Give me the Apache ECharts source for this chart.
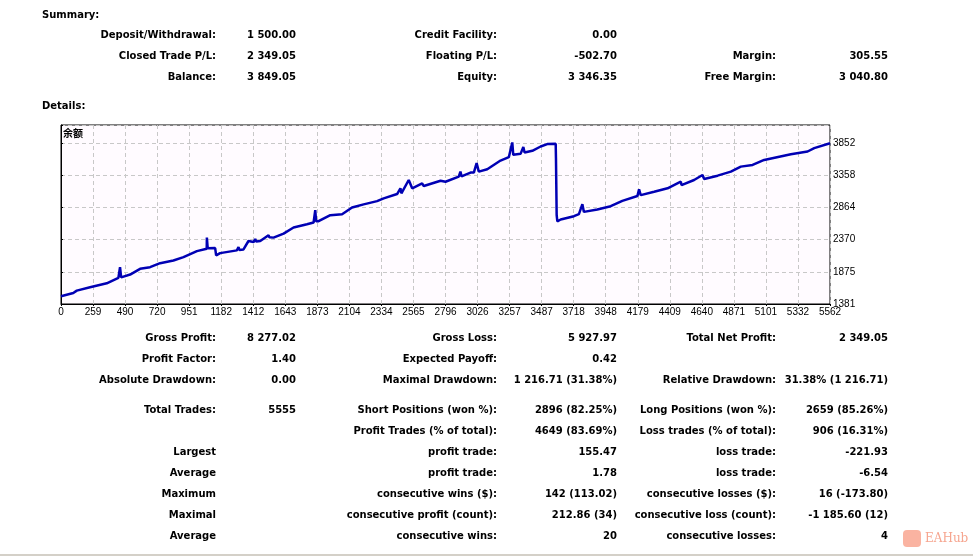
<!DOCTYPE html>
<html>
<head>
<meta charset="utf-8">
<script src="https://cdn.jsdelivr.net/npm/echarts@6/dist/echarts.min.js"></script>
<style>
html, body { margin: 0; padding: 0; background: #fff; }
#main { width: 973px; height: 558px; }
</style>
</head>
<body>
<div id="main"></div>
<script>
var myChart = echarts.init(document.getElementById('main'));

// summary block
let sumLabels1 = ['Deposit/Withdrawal:', 'Closed Trade P/L:', 'Balance:'];
let sumValues1 = ['1 500.00', '2 349.05', '3 849.05'];
let sumLabels2 = ['Credit Facility:', 'Floating P/L:', 'Equity:'];
let sumValues2 = ['0.00', '-502.70', '3 346.35'];
let sumLabels3 = ['', 'Margin:', 'Free Margin:'];
let sumValues3 = ['', '305.55', '3 040.80'];

// details block
let detLabels1 = ['Gross Profit:', 'Profit Factor:', 'Absolute Drawdown:', 'Total Trades:', '', 'Largest', 'Average', 'Maximum', 'Maximal', 'Average'];
let detValues1 = ['8 277.02', '1.40', '0.00', '5555', '', '', '', '', '', ''];
let detLabels2 = ['Gross Loss:', 'Expected Payoff:', 'Maximal Drawdown:', 'Short Positions (won %):', 'Profit Trades (% of total):', 'profit trade:', 'profit trade:', 'consecutive wins ($):', 'consecutive profit (count):', 'consecutive wins:'];
let detValues2 = ['5 927.97', '0.42', '1 216.71 (31.38%)', '2896 (82.25%)', '4649 (83.69%)', '155.47', '1.78', '142 (113.02)', '212.86 (34)', '20'];
let detLabels3 = ['Total Net Profit:', '', 'Relative Drawdown:', 'Long Positions (won %):', 'Loss trades (% of total):', 'loss trade:', 'loss trade:', 'consecutive losses ($):', 'consecutive loss (count):', 'consecutive losses:'];
let detValues3 = ['2 349.05', '', '31.38% (1 216.71)', '2659 (85.26%)', '906 (16.31%)', '-221.93', '-6.54', '16 (-173.80)', '-1 185.60 (12)', '4'];

// balance curve: trade number, balance
let trades = [0, 89, 114, 210, 331, 415, 427, 435, 500, 572, 644, 717, 813, 886, 983, 1054, 1055, 1061, 1115, 1122, 1151,
	1272, 1284, 1290, 1320, 1356, 1393, 1405, 1412, 1441, 1501, 1507, 1537, 1610, 1682, 1779, 1827, 1839, 1845, 1863, 1948,
	2033, 2105, 2189, 2286, 2334, 2431, 2455, 2462, 2515, 2540, 2612, 2624, 2745, 2781, 2877, 2889, 2897, 2962, 2986, 3006,
	3022, 3083, 3179, 3239, 3264, 3271, 3324, 3344, 3353, 3409, 3469, 3517, 3578, 3580, 3585, 3590, 3614, 3710, 3746, 3771,
	3782, 3879, 3976, 4060, 4169, 4181, 4193, 4290, 4387, 4483, 4488, 4579, 4640, 4652, 4749, 4845, 4917, 5002, 5086, 5279,
	5400, 5448, 5562];
let balance = [1500, 1551, 1586, 1637, 1699, 1782, 1946, 1790, 1833, 1921, 1946, 2008, 2049, 2100, 2193, 2230, 2400, 2235, 2240, 2127, 2162,
	2204, 2255, 2210, 2219, 2348, 2332, 2378, 2340, 2348, 2436, 2405, 2400, 2462, 2555, 2605, 2632, 2822, 2650, 2652, 2744,
	2760, 2863, 2910, 2960, 3002, 3069, 3157, 3080, 3285, 3157, 3234, 3192, 3274, 3258, 3336, 3413, 3340, 3398, 3398, 3543,
	3413, 3450, 3583, 3635, 3861, 3671, 3686, 3790, 3706, 3733, 3799, 3836, 3841, 3620, 2744, 2650, 2678, 2729, 2760, 2914,
	2795, 2832, 2883, 2965, 3038, 3141, 3053, 3104, 3157, 3258, 3207, 3285, 3362, 3300, 3351, 3413, 3490, 3516, 3593, 3681,
	3722, 3774, 3849];

let xTicks = ['0', '259', '490', '720', '951', '1182', '1412', '1643', '1873', '2104', '2334', '2565', '2796', '3026',
	'3257', '3487', '3718', '3948', '4179', '4409', '4640', '4871', '5101', '5332', '5562'];
let yTicks = ['1381', '1875', '2370', '2864', '3358', '3852'];

let textFont = '"DejaVu Sans", sans-serif';
let axisFont = '"Liberation Sans", sans-serif';
let txt = (str, x, y, align) => ({
	type: 'text',
	x: x,
	y: y,
	style: {
		text: str,
		fill: '#000',
		font: 'bold 10px ' + textFont,
		align: align,
		verticalAlign: 'middle'
	}
});

let graphics = [];
graphics.push(txt('Summary:', 42, 15, 'left'));
graphics.push(txt('Details:', 42, 106, 'left'));
let sumY = [35, 56, 77];
sumY.forEach((y, i) => {
	graphics.push(txt(sumLabels1[i], 216, y, 'right'));
	graphics.push(txt(sumValues1[i], 296, y, 'right'));
	graphics.push(txt(sumLabels2[i], 497, y, 'right'));
	graphics.push(txt(sumValues2[i], 617, y, 'right'));
	graphics.push(txt(sumLabels3[i], 776, y, 'right'));
	graphics.push(txt(sumValues3[i], 888, y, 'right'));
});
let detY = [338, 359, 380, 410, 431, 452, 473, 494, 515, 536];
detY.forEach((y, i) => {
	graphics.push(txt(detLabels1[i], 216, y, 'right'));
	graphics.push(txt(detValues1[i], 296, y, 'right'));
	graphics.push(txt(detLabels2[i], 497, y, 'right'));
	graphics.push(txt(detValues2[i], 617, y, 'right'));
	graphics.push(txt(detLabels3[i], 776, y, 'right'));
	graphics.push(txt(detValues3[i], 888, y, 'right'));
});
// chart caption
graphics.push({
	type: 'text',
	x: 63,
	y: 133,
	z: 10,
	style: {
		text: '余额',
		fill: '#000',
		font: 'bold 10px "Noto Sans CJK SC"',
		verticalAlign: 'middle'
	}
});
// bottom separator
graphics.push({
	type: 'rect',
	shape: { x: 0, y: 554, width: 973, height: 2 },
	style: { fill: '#D4D0C8' }
});
// watermark
graphics.push({
	type: 'rect',
	shape: { x: 903, y: 530, width: 18, height: 17, r: 4 },
	style: { fill: '#F9A08A', opacity: 0.8 }
});
graphics.push({
	type: 'text',
	x: 925,
	y: 539,
	style: {
		text: 'EAHub',
		fill: '#F6A58F',
		font: '12px "DejaVu Serif", serif',
		verticalAlign: 'middle'
	}
});

option = {
	animation: false,
	backgroundColor: '#fff',
	graphic: graphics,
	grid: {
		left: 61,
		top: 125,
		width: 769,
		height: 179,
		show: true,
		backgroundColor: '#FFFBFF',
		borderColor: '#000',
		borderWidth: 1
	},
	xAxis: {
		type: 'value',
		min: 0,
		max: 5562,
		interval: 231.75,
		axisLine: { lineStyle: { color: '#000' } },
		axisTick: { show: true, length: 2, lineStyle: { color: '#000' } },
		axisLabel: {
			margin: 3,
			color: '#000',
			fontFamily: axisFont,
			fontSize: 10,
			formatter: (v, i) => xTicks[i] || ''
		},
		splitLine: { lineStyle: { type: [4, 3], color: '#C8C8C8' } }
	},
	yAxis: {
		type: 'value',
		position: 'right',
		min: 1381,
		max: 4129,
		interval: 494.2,
		axisLine: { show: true, lineStyle: { color: '#000' } },
		axisTick: { show: true, length: 2, lineStyle: { color: '#000' } },
		axisLabel: {
			margin: 3,
			color: '#000',
			fontFamily: axisFont,
			fontSize: 10,
			formatter: (v, i) => yTicks[i] || ''
		},
		splitLine: { lineStyle: { type: [4, 3], color: '#C8C8C8' } }
	},
	series: [{
		type: 'line',
		symbol: 'none',
		lineStyle: { color: '#0000B4', width: 2.5, join: 'bevel' },
		data: trades.map((t, i) => [t, balance[i]])
	}]
};
myChart.setOption(option);
</script>
</body>
</html>
